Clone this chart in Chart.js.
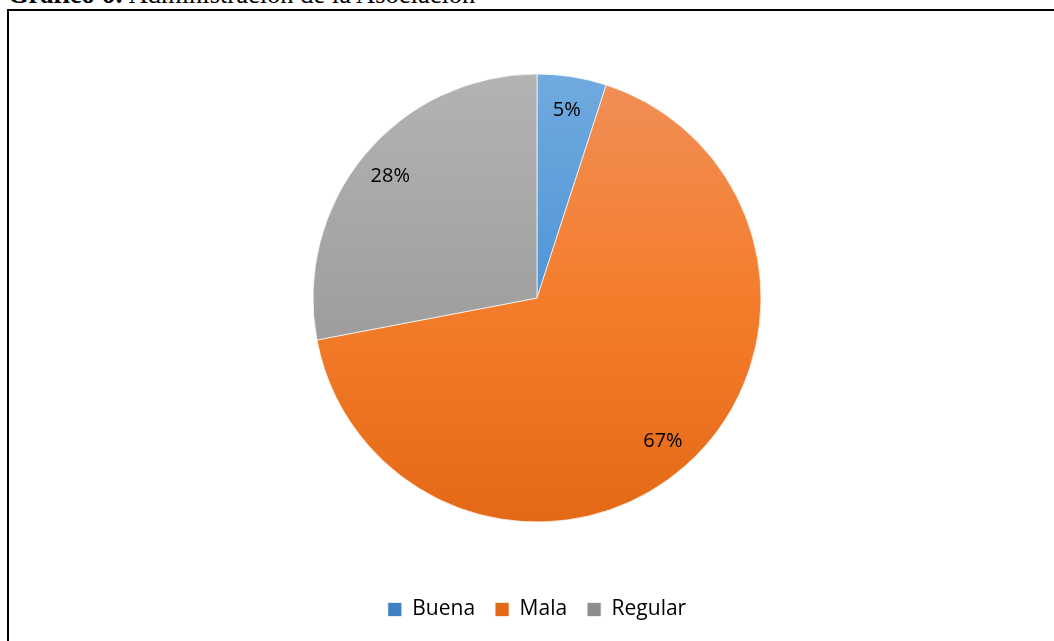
<!DOCTYPE html>
<html>
<head>
<meta charset="utf-8">
<script src="https://cdn.jsdelivr.net/npm/chart.js@4"></script>
<style>
  html, body { margin: 0; padding: 0; background: #fff; overflow: hidden; }
  body { width: 1054px; height: 641px; position: relative; }
  .caption {
    position: absolute; left: 8px; top: -19px;
    font-family: 'Liberation Serif', 'Times New Roman', serif;
    font-size: 26.5px; line-height: 1; white-space: nowrap; color: #000;
  }
  .frame {
    position: absolute; left: 7px; top: 9px; width: 1100px; height: 700px;
    border: 2px solid #000; box-sizing: border-box;
  }
  .wrap { position: absolute; left: 0; top: 0; width: 1054px; height: 641px; }
</style>
</head>
<body>
<div class="caption"><b>Gráfico 6:</b> Administración de la Asociación</div>
<div class="frame"></div>
<div class="wrap"><canvas id="pie"></canvas></div>
<script>
// ── data ──────────────────────────────────────────────
const categories = ['Buena', 'Mala', 'Regular'];
const shares = [5, 67, 28];

// gradient stops per slice: top, middle, bottom (Excel-like shading)
const SHADES = [
  ['#70aadf', '#5095d6', '#3f7fc4'],
  ['#f18f58', '#f47d2c', '#e46916'],
  ['#b3b3b3', '#a1a1a1', '#8c8c8c']
];
const FONT_FAMILY = "'Open Sans', 'Liberation Sans', sans-serif";

function sliceFill(ctx) {
  const i = ctx.dataIndex;
  const chart = ctx.chart;
  const area = chart.chartArea;
  if (!area) return SHADES[i][1];
  const meta = chart.getDatasetMeta(0);
  const arc = meta.data[i];
  const r = arc && arc.outerRadius ? arc.outerRadius : 224;
  const cy = (area.top + area.bottom) / 2;
  const g = chart.ctx.createLinearGradient(0, cy - r, 0, cy + r);
  g.addColorStop(0, SHADES[i][0]);
  g.addColorStop(0.5, SHADES[i][1]);
  g.addColorStop(1, SHADES[i][2]);
  return g;
}

/** percentage labels placed inside each slice */
const sliceLabels = {
  id: 'sliceLabels',
  afterDatasetsDraw(chart) {
    const { ctx } = chart;
    const total = shares.reduce((a, b) => a + b, 0);
    ctx.save();
    ctx.font = `20px ${FONT_FAMILY}`;
    ctx.fillStyle = '#000';
    ctx.textAlign = 'center';
    ctx.textBaseline = 'middle';
    chart.getDatasetMeta(0).data.forEach((arc, i) => {
      const { x, y, startAngle, endAngle, outerRadius } =
        arc.getProps(['x', 'y', 'startAngle', 'endAngle', 'outerRadius'], true);
      const mid = (startAngle + endAngle) / 2;
      const r = outerRadius * 0.85;
      const pct = Math.round(shares[i] / total * 100) + '%';
      ctx.fillText(pct, x + Math.cos(mid) * r, y + Math.sin(mid) * r);
    });
    ctx.restore();
  }
};

new Chart(document.getElementById('pie'), {
  type: 'pie',
  data: {
    labels: categories,
    datasets: [{
      data: shares,
      backgroundColor: sliceFill,
      borderColor: 'rgba(255,255,255,0.7)',
      borderWidth: 1,
      radius: 224
    }]
  },
  options: {
    responsive: true,
    maintainAspectRatio: false,
    animation: false,
    events: [],
    layout: { padding: { top: 17, left: 20, right: 0, bottom: 11 } },
    plugins: {
      legend: {
        position: 'bottom',
        labels: {
          color: '#000',
          font: { family: FONT_FAMILY, size: 21 },
          boxWidth: 14, boxHeight: 14, padding: 20
        }
      },
      tooltip: { enabled: false }
    }
  },
  plugins: [sliceLabels]
});
</script>
</body>
</html>
